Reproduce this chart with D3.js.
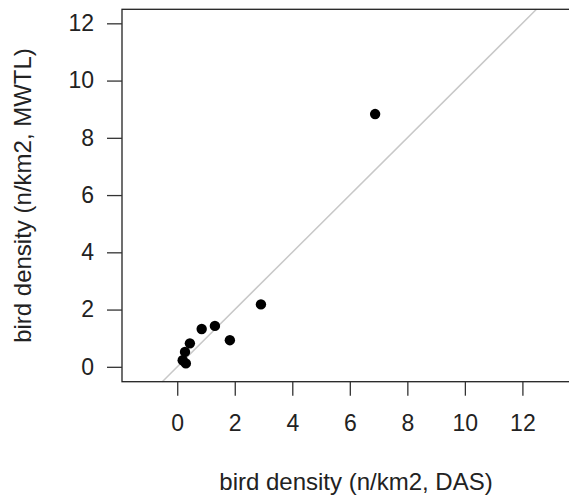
<!DOCTYPE html>
<html>
<head>
<meta charset="utf-8">
<script src="https://cdn.jsdelivr.net/npm/d3@7"></script>
<style>
  body { margin: 0; background: #fff; }
  svg { display: block; }
  text { font-family: "Liberation Sans", Arial, sans-serif; fill: #222; }
</style>
</head>
<body>
<script>
// bird density per site, DAS (x) versus MWTL (y)
var das  = [0.19, 0.27, 0.30, 0.44, 0.85, 1.31, 1.83, 2.91, 6.88];
var mwtl = [0.23, 0.52, 0.12, 0.82, 1.32, 1.43, 0.93, 2.18, 8.83];

var xTicks = [0, 2, 4, 6, 8, 10, 12];
var yTicks = [0, 2, 4, 6, 8, 10, 12];

var xLabel = "bird density (n/km2, DAS)",
    yLabel = "bird density (n/km2, MWTL)";

var width = 569, height = 496;
var plot = {left: 122, right: 590, top: 9.3, bottom: 381.7};

var svg = d3.select("body")
    .append("svg")
    .attr("width", width)
    .attr("height", height);

// plot region runs a little past the right edge of the picture
var x = d3.scaleLinear().domain([-1.92, 14.35]).range([plot.left, plot.right]),
    y = d3.scaleLinear().domain([-0.52, 12.49]).range([plot.bottom, plot.top]);

var data = das.map(function(d, i) { return {das: d, mwtl: mwtl[i]}; });

// 1:1 line, clipped to the plot box
var lo = Math.max(x.domain()[0], y.domain()[0]),
    hi = Math.min(x.domain()[1], y.domain()[1]);
svg.append("line")
    .attr("x1", x(lo)).attr("y1", y(lo))
    .attr("x2", x(hi)).attr("y2", y(hi))
    .style("stroke", "#c8c8c8")
    .style("stroke-width", 1.5);

// box round the plot
svg.append("rect")
    .attr("x", plot.left)
    .attr("y", plot.top)
    .attr("width", plot.right - plot.left)
    .attr("height", plot.bottom - plot.top)
    .style("fill", "none")
    .style("stroke", "#222")
    .style("stroke-width", 1.3);

var xAxis = d3.axisBottom(x)
    .tickValues(xTicks)
    .tickSize(14)
    .tickPadding(19)
    .tickFormat(d3.format("d"));

var yAxis = d3.axisLeft(y)
    .tickValues(yTicks)
    .tickSize(15)
    .tickPadding(13)
    .tickFormat(d3.format("d"));

var gx = svg.append("g")
    .attr("transform", "translate(0," + plot.bottom + ")")
    .call(xAxis);

var gy = svg.append("g")
    .attr("transform", "translate(" + plot.left + ",0)")
    .call(yAxis);

[gx, gy].forEach(function(g) {
  g.select(".domain").remove();
  g.selectAll(".tick line").style("stroke", "#333").style("stroke-width", 1.3);
  g.selectAll(".tick text")
      .style("font-size", "23px")
      .style("font-family", "'Liberation Sans', Arial, sans-serif")
      .style("fill", "#222");
});

svg.selectAll(".pt")
    .data(data)
    .enter().append("circle")
    .attr("class", "pt")
    .attr("cx", function(d) { return x(d.das); })
    .attr("cy", function(d) { return y(d.mwtl); })
    .attr("r", 5.2)
    .style("fill", "#000");

svg.append("text")
    .attr("x", (plot.left + plot.right) / 2)
    .attr("y", 490)
    .style("text-anchor", "middle")
    .style("font-size", "24px")
    .text(xLabel);

svg.append("text")
    .attr("transform", "translate(31," + (plot.top + plot.bottom) / 2 + ") rotate(-90)")
    .style("text-anchor", "middle")
    .style("font-size", "24px")
    .text(yLabel);
</script>
</body>
</html>
